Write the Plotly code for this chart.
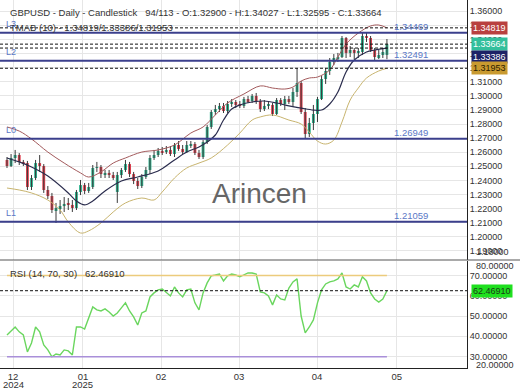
import plotly.graph_objects as go

# ---------------- data ----------------
bar_index = list(range(94))
opens = [1.2545,1.2502,1.2559,1.2580,1.2531,1.2523,1.2353,1.2417,1.2523,1.2502,
         1.2332,1.2289,1.2190,1.2204,1.2218,1.2233,1.2226,1.2204,1.2318,1.2367,
         1.2325,1.2353,1.2488,1.2495,1.2445,1.2453,1.2438,1.2318,1.2438,1.2474,
         1.2516,1.2445,1.2396,1.2360,1.2424,1.2474,1.2559,1.2580,1.2609,1.2601,
         1.2616,1.2587,1.2651,1.2623,1.2601,1.2651,1.2658,1.2594,1.2566,1.2672,
         1.2779,1.2885,1.2906,1.2928,1.2892,1.2942,1.2956,1.2935,1.2928,1.2977,
         1.2963,1.2999,1.2963,1.2906,1.2928,1.2935,1.2871,1.2970,1.2942,1.2977,
         1.2956,1.3027,1.3091,1.2885,1.2729,1.2807,1.2871,1.2977,1.3119,1.3176,
         1.3240,1.3268,1.3275,1.3410,1.3304,1.3325,1.3304,1.3311,1.3424,1.3410,
         1.3325,1.3275,1.3289,1.32900]
highs = [1.2566,1.2587,1.2616,1.2594,1.2545,1.2538,1.2438,1.2545,1.2580,1.2516,
         1.2360,1.2311,1.2240,1.2261,1.2282,1.2275,1.2261,1.2332,1.2403,1.2382,
         1.2382,1.2509,1.2531,1.2509,1.2474,1.2474,1.2460,1.2460,1.2488,1.2545,
         1.2531,1.2460,1.2417,1.2445,1.2495,1.2580,1.2616,1.2630,1.2637,1.2644,
         1.2644,1.2665,1.2679,1.2651,1.2679,1.2679,1.2672,1.2616,1.2686,1.2793,
         1.2899,1.2935,1.2949,1.2949,1.2963,1.2977,1.2970,1.2963,1.2992,1.2999,
         1.3013,1.3020,1.2977,1.2970,1.2956,1.2949,1.2984,1.2984,1.2999,1.2999,
         1.3055,1.3197,1.3105,1.2913,1.2843,1.2935,1.2992,1.3140,1.3197,1.3268,
         1.3296,1.3304,1.3424,1.3417,1.3353,1.3339,1.3339,1.3445,1.3452,1.3424,
         1.3339,1.3325,1.3339,1.34027]
lows = [1.2488,1.2495,1.2523,1.2509,1.2502,1.2332,1.2332,1.2403,1.2460,1.2311,
        1.2268,1.2169,1.2098,1.2162,1.2176,1.2190,1.2176,1.2190,1.2296,1.2303,
        1.2311,1.2339,1.2460,1.2417,1.2417,1.2417,1.2403,1.2240,1.2417,1.2460,
        1.2424,1.2374,1.2339,1.2346,1.2410,1.2445,1.2545,1.2566,1.2580,1.2587,
        1.2573,1.2566,1.2609,1.2587,1.2594,1.2630,1.2580,1.2552,1.2552,1.2658,
        1.2765,1.2864,1.2885,1.2878,1.2878,1.2921,1.2913,1.2913,1.2913,1.2949,
        1.2949,1.2942,1.2885,1.2892,1.2906,1.2857,1.2864,1.2928,1.2899,1.2942,
        1.2921,1.2992,1.2871,1.2694,1.2708,1.2757,1.2814,1.2970,1.3084,1.3148,
        1.3218,1.3240,1.3268,1.3268,1.3275,1.3261,1.3268,1.3289,1.3382,1.3311,
        1.3254,1.3261,1.3268,1.32595]
closes = [1.2502,1.2559,1.2580,1.2531,1.2523,1.2353,1.2417,1.2523,1.2502,1.2332,
          1.2289,1.2190,1.2204,1.2218,1.2233,1.2226,1.2204,1.2318,1.2367,1.2325,
          1.2353,1.2488,1.2495,1.2445,1.2453,1.2438,1.2424,1.2438,1.2474,1.2516,
          1.2445,1.2396,1.2360,1.2424,1.2474,1.2559,1.2580,1.2609,1.2601,1.2616,
          1.2587,1.2651,1.2623,1.2601,1.2651,1.2658,1.2594,1.2566,1.2672,1.2779,
          1.2885,1.2906,1.2928,1.2892,1.2942,1.2956,1.2935,1.2928,1.2977,1.2963,
          1.2999,1.2963,1.2906,1.2928,1.2935,1.2871,1.2970,1.2942,1.2977,1.2956,
          1.3027,1.3091,1.2885,1.2729,1.2807,1.2871,1.2977,1.3119,1.3176,1.3240,
          1.3268,1.3275,1.3410,1.3304,1.3325,1.3304,1.3311,1.3424,1.3410,1.3325,
          1.3275,1.3289,1.3311,1.33664]

tma_mid_idx = [0,3,6,10,15,17,19,21,24,28,32,37,41,44,47,49,51,53,55,57,60,63,66,69,72,75,77,79,81,83,85,88,90,93]
tma_mid = [1.2559,1.2531,1.2495,1.2431,1.2311,1.2254,1.2226,1.2254,1.2325,1.2396,1.2424,1.2467,1.2545,1.2601,
           1.2637,1.2672,1.2722,1.2828,1.2906,1.2935,1.2956,1.2963,1.2949,1.2928,1.2913,1.2899,1.2899,1.2942,
           1.3027,1.3169,1.3254,1.3311,1.3325,1.33386]
tma_up_idx = [0,3,6,10,14,18,20,23,26,29,33,37,41,45,48,51,54,58,62,65,68,70,72,74,76,79,81,83,86,89,91,93]
tma_up = [1.2779,1.2750,1.2694,1.2601,1.2523,1.2453,1.2424,1.2460,1.2523,1.2559,1.2601,1.2616,1.2651,1.2736,
          1.2779,1.2864,1.2949,1.3013,1.3070,1.3055,1.3048,1.3062,1.3105,1.3126,1.3133,1.3183,1.3275,1.3367,
          1.3445,1.3495,1.3502,1.34819]
tma_lo_idx = [0,3,6,10,13,15,18,20,23,26,29,33,36,38,41,44,47,50,54,57,60,62,65,69,72,74,76,78,80,82,84,86,88,91,93]
tma_lo = [1.2346,1.2332,1.2311,1.2261,1.2190,1.2105,1.2027,1.2042,1.2098,1.2176,1.2240,1.2275,1.2261,1.2318,
          1.2417,1.2488,1.2523,1.2559,1.2651,1.2736,1.2828,1.2850,1.2864,1.2828,1.2800,1.2743,1.2679,1.2658,
          1.2686,1.2814,1.2970,1.3055,1.3126,1.3176,1.31953]

rsi = [40.7,42.7,44.6,42.2,40.7,32.3,36.7,44.6,42.2,35.8,
       33.3,29.9,31.3,30.8,33.3,32.8,30.8,44.6,44.6,43.6,
       49.1,54.5,53.0,52.5,53.5,52.0,50.0,51.5,54.0,56.5,
       52.5,49.6,45.6,51.5,52.5,59.4,61.4,62.9,63.3,61.4,
       59.9,64.3,61.4,59.4,62.9,63.3,56.5,53.0,61.4,66.3,
       69.8,70.2,70.7,67.3,69.8,70.7,70.2,69.3,70.2,71.2,
       71.2,70.7,61.9,61.4,59.9,55.5,60.4,58.4,57.9,63.8,
       66.8,68.3,50.0,41.7,44.6,48.1,56.5,62.9,65.8,66.8,
       67.3,68.3,71.2,64.3,63.3,65.3,64.3,69.3,67.3,61.4,
       58.4,56.9,58.4,62.4691]

level_names = ["L3", "L2", "L0", "L1"]
level_values = [1.34469, 1.32491, 1.26949, 1.21059]
tmab_values = [1.34819, 1.33386, 1.31953]
last_close = 1.33664
rsi_last = 62.46910
rsi_levels = [70, 30]

month_ticks = [1.5, 18.6, 37.7, 56.8, 75.9, 95.4]
month_labels = ["12", "01", "02", "03", "04", "05"]
year_labels = ["2024", "2025"]
price_ticks = [round(1.19 + 0.01 * k, 2) for k in range(18)]
rsi_ticks = [30, 40, 50, 60, 70]

# ---------------- figure ----------------
FONT = "Liberation Sans, Arial, sans-serif"
INC, DEC = "#2db38e", "#e0404f"
fig = go.Figure()

# wicks
wx, wy = [], []
for i, h, l in zip(bar_index, highs, lows):
    wx += [i, i, None]
    wy += [l, h, None]
fig.add_trace(go.Scatter(x=wx, y=wy, mode="lines", line=dict(color="#3a3a3a", width=1),
                         xaxis="x2", yaxis="y", hoverinfo="skip"))
# bodies
base = [min(o, c) for o, c in zip(opens, closes)]
height = [max(abs(c - o), 0.0003) for o, c in zip(opens, closes)]
cols = [INC if c >= o else DEC for o, c in zip(opens, closes)]
fig.add_trace(go.Bar(x=bar_index, y=height, base=base, width=0.7, marker=dict(color=cols, line=dict(width=0)),
                     xaxis="x2", yaxis="y"))

# TMA bands
fig.add_trace(go.Scatter(x=tma_up_idx, y=tma_up, mode="lines", line=dict(color="#a35a5c", width=1, shape="spline"),
                         xaxis="x2", yaxis="y"))
fig.add_trace(go.Scatter(x=tma_lo_idx, y=tma_lo, mode="lines", line=dict(color="#c8b46e", width=1, shape="spline"),
                         xaxis="x2", yaxis="y"))
fig.add_trace(go.Scatter(x=tma_mid_idx, y=tma_mid, mode="lines", line=dict(color="#2b2d4e", width=1.2, shape="spline"),
                         xaxis="x2", yaxis="y"))

# RSI
fig.add_trace(go.Scatter(x=bar_index, y=rsi, mode="lines", line=dict(color="#6ad65e", width=1.4),
                         xaxis="x", yaxis="y2"))
fig.add_trace(go.Scatter(x=[bar_index[0], bar_index[-1]], y=[rsi_levels[0]] * 2, mode="lines",
                         line=dict(color="#eccb7c", width=1.5), xaxis="x", yaxis="y2"))
fig.add_trace(go.Scatter(x=[bar_index[0], bar_index[-1]], y=[rsi_levels[1]] * 2, mode="lines",
                         line=dict(color="#a98fd9", width=1.5), xaxis="x", yaxis="y2"))

shapes = []
for v in level_values:
    shapes.append(dict(type="line", xref="paper", x0=0, x1=1, yref="y", y0=v, y1=v,
                       line=dict(color="#3b3f8c", width=2)))
for v in tmab_values + [last_close]:
    shapes.append(dict(type="line", xref="paper", x0=0, x1=1, yref="y", y0=v, y1=v,
                       line=dict(color="#111", width=1, dash="3px,2px")))
shapes.append(dict(type="line", xref="paper", x0=0, x1=1, yref="y2", y0=rsi_last, y1=rsi_last,
                   line=dict(color="#111", width=1, dash="3px,2px")))
MAIN_BOT = (368 - 260) / 368
RSI_TOP = (368 - 261) / 368
shapes.append(dict(type="line", xref="paper", x0=0, x1=520 / 467, yref="paper", y0=MAIN_BOT, y1=MAIN_BOT,
                   line=dict(color="#555", width=1)))

ann = []
ann.append(dict(xref="paper", yref="paper", x=8 / 467, y=1, yshift=-12, xanchor="left", yanchor="middle",
                text="GBPUSD - Daily - Candlestick   94/113 - O:1.32900 - H:1.34027 - L:1.32595 - C:1.33664",
                showarrow=False, font=dict(size=9.5, color="#333", family=FONT)))
ann.append(dict(xref="paper", yref="y", x=8 / 467, y=tmab_values[0], xanchor="left", yanchor="middle",
                text="TMAB (10) - %.5f/%.5f/%.5f" % tuple(tmab_values),
                showarrow=False, font=dict(size=9.5, color="#333", family=FONT)))
for n, v in zip(level_names, level_values):
    ann.append(dict(xref="paper", yref="y", x=4 / 467, y=v, yshift=9, xanchor="left", yanchor="middle",
                    text=n, showarrow=False, font=dict(size=9, color="#5b78c6", family=FONT)))
    ann.append(dict(xref="paper", yref="y", x=392 / 467, y=v, yshift=6, xanchor="left", yanchor="middle",
                    text="%.5f" % v, showarrow=False, font=dict(size=9.5, color="#5b78c6", family=FONT)))

ann.append(dict(xref="paper", yref="y", x=259 / 467, y=1.2304, text="Arincen", showarrow=False,
                font=dict(size=28, color="#666", family=FONT)))
ann.append(dict(xref="paper", yref="paper", x=8 / 467, y=RSI_TOP, yshift=-12, xanchor="left", yanchor="middle",
                text="RSI (14, 70, 30)   %.5f" % rsi_last, showarrow=False,
                font=dict(size=9.5, color="#333", family=FONT)))
# year labels under the first two month ticks
for xv, yl in zip(month_ticks[:2], year_labels):
    ann.append(dict(xref="x", yref="paper", x=xv, y=0, yshift=-16, xanchor="center", yanchor="middle",
                    text=yl, showarrow=False, font=dict(size=9.5, color="#333", family=FONT)))

# price boxes on the right axis
boxes = [(tmab_values[0], 0, "#b9403f", "white"),
         (last_close, 0, "#33bf9c", "white"),
         (tmab_values[1], -9, "#1d2266", "white"),
         (tmab_values[2], 0, "#c99a30", "#2b2000")]
for v, ys, bg, fc in boxes:
    ann.append(dict(xref="paper", yref="y", x=1, xshift=4, y=v, yshift=ys, xanchor="left", yanchor="middle",
                    text="%.5f" % v, showarrow=False, bgcolor=bg, borderpad=1,
                    font=dict(size=9, color=fc, family=FONT)))
ann.append(dict(xref="paper", yref="y2", x=1, xshift=4, y=rsi_last, xanchor="left", yanchor="middle",
                text="%.5f" % rsi_last, showarrow=False, bgcolor="#1fe01f", borderpad=1,
                font=dict(size=9, color="#1a3a1a", family=FONT)))
# clamped edge labels
ann.append(dict(xref="paper", yref="paper", x=1, xshift=7, y=1, yshift=3, xanchor="left", yanchor="middle",
                text="1.37000", showarrow=False, font=dict(size=9, color="#333", family=FONT)))
ann.append(dict(xref="paper", yref="paper", x=1, xshift=7, y=MAIN_BOT, yshift=1, xanchor="left", yanchor="bottom",
                text="1.18000", showarrow=False, font=dict(size=9, color="#333", family=FONT)))
ann.append(dict(xref="paper", yref="paper", x=1, xshift=7, y=RSI_TOP, yshift=2, xanchor="left", yanchor="top",
                text="80.00000", showarrow=False, font=dict(size=9, color="#333", family=FONT)))
ann.append(dict(xref="paper", yref="paper", x=1, xshift=7, y=0, yshift=3, xanchor="left", yanchor="middle",
                text="20.00000", showarrow=False, font=dict(size=9, color="#333", family=FONT)))

GRID = "#e6e6e6"
fig.update_layout(
    template="none",
    width=520, height=390, margin=dict(l=0, r=53, t=0, b=22, autoexpand=False),
    paper_bgcolor="white", plot_bgcolor="white", showlegend=False,
    font=dict(family=FONT, size=9, color="#333"),
    xaxis=dict(domain=[0, 1], range=[-1.71, 112.6], anchor="y2", tickvals=month_ticks, ticktext=month_labels,
               showgrid=True, gridcolor=GRID, showline=True, linecolor="#222", linewidth=1, ticks="",
               zeroline=False, automargin=False, ticklabelstandoff=0, tickfont=dict(size=9.5, color="#333")),
    xaxis2=dict(domain=[0, 1], matches="x", anchor="y", tickvals=month_ticks, showticklabels=False,
                showgrid=True, gridcolor=GRID, ticks="", zeroline=False, automargin=False),
    yaxis=dict(domain=[MAIN_BOT, 1], range=[1.18355, 1.36794], anchor="x2", side="right",
               tickvals=price_ticks, ticktext=["%.5f" % t for t in price_ticks], showgrid=True, gridcolor=GRID,
               showline=True, linecolor="#222", linewidth=1, ticks="", zeroline=False, automargin=False),
    yaxis2=dict(domain=[0, RSI_TOP], range=[24.4, 77.1], anchor="x", side="right",
                tickvals=rsi_ticks, ticktext=["%.5f" % t for t in rsi_ticks], showgrid=True, gridcolor=GRID,
                showline=True, linecolor="#222", linewidth=1, ticks="", zeroline=False, automargin=False),
    shapes=shapes, annotations=ann,
)

fig.write_html("out.html", config={"displayModeBar": False},
               post_script="document.body.style.margin='0';document.body.style.overflow='hidden';")
